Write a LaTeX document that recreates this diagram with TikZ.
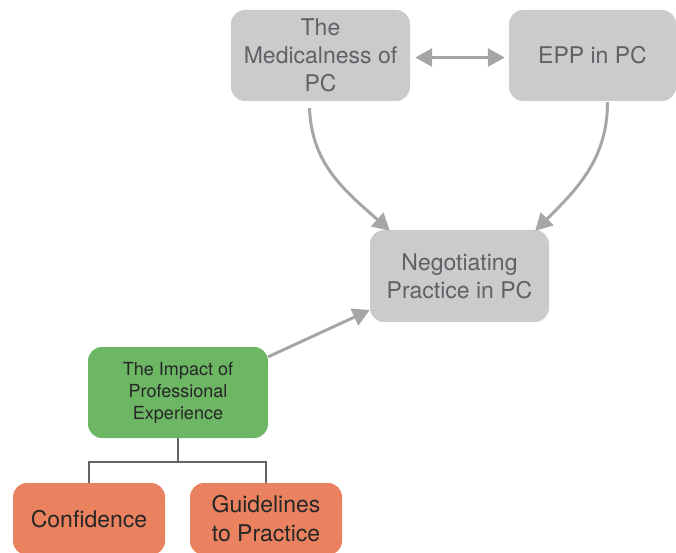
\documentclass[tikz,border=0pt]{standalone}
\usepackage{fontspec}
\setmainfont{TeX Gyre Heros}
\usetikzlibrary{arrows.meta,calc}
\definecolor{boxgray}{RGB}{203,203,203}
\definecolor{txtgray}{RGB}{95,97,103}
\definecolor{arrgray}{RGB}{165,167,167}
\definecolor{boxgreen}{RGB}{108,182,100}
\definecolor{boxorange}{RGB}{234,130,96}
\definecolor{treegray}{RGB}{100,100,100}
\tikzset{
  graybox/.style={fill=boxgray, rounded corners=14pt, text=txtgray, align=center,
    inner sep=0pt, font=\fontsize{23}{28}\selectfont},
  greenbox/.style={fill=boxgreen, rounded corners=14pt, text=black!85, align=center,
    inner sep=0pt, font=\fontsize{18}{22}\selectfont},
  orangebox/.style={fill=boxorange, rounded corners=14pt, text=black!85, align=center,
    inner sep=0pt, font=\fontsize{23}{29}\selectfont},
  garrow/.style={draw=arrgray, line width=3pt, -{Triangle[length=17pt,width=18pt]}},
  darrow/.style={draw=arrgray, line width=3pt, {Triangle[length=17pt,width=18pt]}-{Triangle[length=17pt,width=18pt]}},
  treeline/.style={draw=treegray, line width=1.6pt},
}
\begin{document}
\begin{tikzpicture}[x=1pt,y=1pt]
\useasboundingbox (0,0) rectangle (676,552);
\clip (0,0) rectangle (676,552);
\node[graybox, minimum width=179pt, minimum height=91pt] (med) at (320.5,496.5) {The\\Medicalness of\\PC};
\node[graybox, minimum width=167pt, minimum height=91pt] (epp) at (592.5,496.5) {EPP in PC};
\node[graybox, minimum width=179pt, minimum height=92pt] (neg) at (459.5,276) {Negotiating\\Practice in PC};
\node[greenbox, minimum width=180pt, minimum height=91pt] (imp) at (178,159.5) {The Impact of\\Professional\\Experience};
\node[orangebox, minimum width=152pt, minimum height=72pt] (conf) at (89,33) {Confidence};
\node[orangebox, minimum width=152pt, minimum height=72pt] (guid) at (266,33) {Guidelines\\to Practice};
% arrows
\draw[darrow] ($(med.east)+(5,-2)$) -- ($(epp.west)+(-4,-2)$);
\draw[garrow] ($(med.south)+(-11,-7)$) to[out=-88,in=138] ($(neg.north west)+(20,-1)$);
\draw[garrow] ($(epp.south)+(15,-1)$) to[out=-90,in=45] ($(neg.north east)+(-14,-1)$);
\draw[garrow] ($(imp.north east)+(0,-10)$) -- ($(neg.west)+(0,-34)$);
% tree
\coordinate (tj) at ($(imp.south)+(0,-24)$);
\draw[treeline] (imp.south) -- (tj);
\draw[treeline] (conf.north) -- (conf.north |- tj) -- (guid.north |- tj) -- (guid.north);
\end{tikzpicture}
\end{document}
